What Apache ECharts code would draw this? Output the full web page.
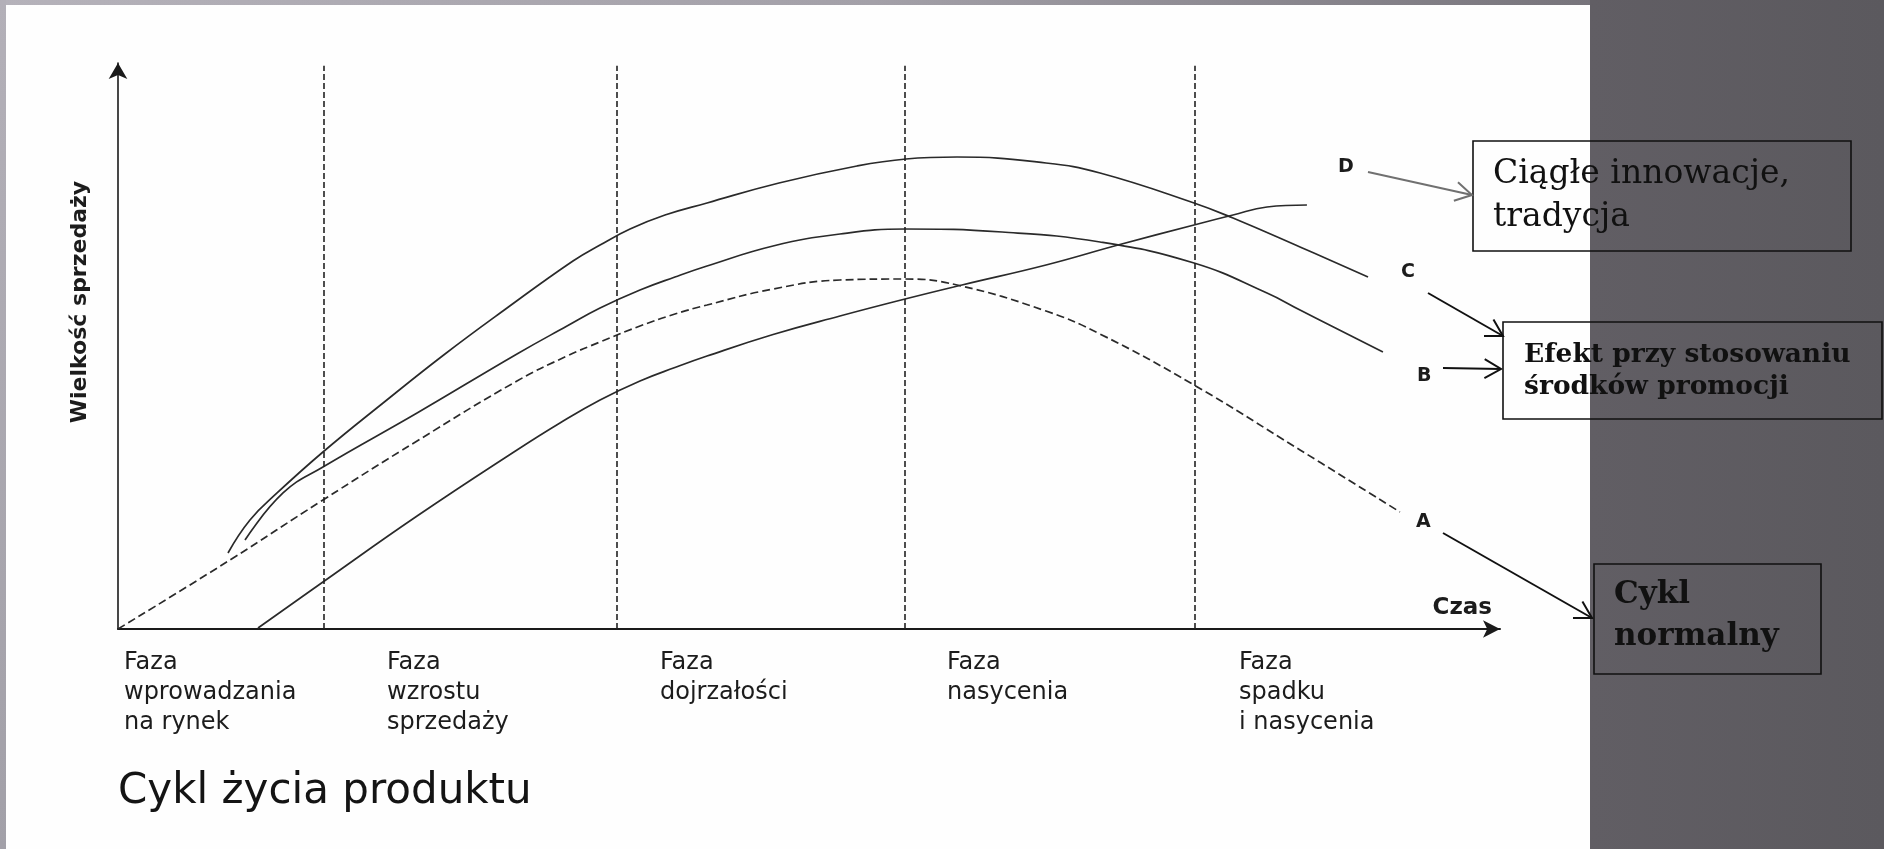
<!DOCTYPE html>
<html>
<head>
<meta charset="utf-8">
<script src="https://cdn.jsdelivr.net/npm/echarts@6/dist/echarts.min.js"></script>
<style>
html,body{margin:0;padding:0;width:1884px;height:849px;overflow:hidden;background:#fff;}
#bg{position:absolute;left:0;top:0;width:1884px;height:849px;background:#fefefe;}
#topband{position:absolute;left:0;top:0;width:1590px;height:5px;background:linear-gradient(to right,#b5b2ba,#a3a0a8 55%,#77747b);}
#leftband{position:absolute;left:0;top:0;width:6px;height:849px;background:linear-gradient(to bottom,#b3b0b8,#a2a0a8);}
#panel{position:absolute;left:1590px;top:0;width:294px;height:849px;background:linear-gradient(to right,#615e64,#5b595e);}
#chart{position:absolute;left:0;top:0;width:1884px;height:849px;}
</style>
</head>
<body>
<div id="bg"><div id="topband"></div><div id="leftband"></div><div id="panel"></div></div>
<div id="chart"></div>
<script>
// ---------------- data (x = time, y = sales, both 0..100) ----------------
const phaseBoundaries = [14.9, 36.1, 56.9, 77.9];
const phaseNames = [
  'Faza\nwprowadzania\nna rynek',
  'Faza\nwzrostu\nsprzedaży',
  'Faza\ndojrzałości',
  'Faza\nnasycenia',
  'Faza\nspadku\ni nasycenia'
];
const curveA = [[0,0],[8.10,12.19],[14.83,22.79],[21.64,33.22],[28.87,43.82],[32.49,48.23],[34.88,50.71],[37.77,53.53],[40.30,55.65],[42.62,57.24],[47.40,60.07],[52.24,61.66],[56.95,61.84],[60.71,60.78],[67.15,56.18],[71.06,52.12],[77.86,43.11],[85.53,31.63],[92.76,20.67]];
const curveB = [[9.19,15.72],[11.94,24.03],[14.83,28.62],[21.64,38.16],[28.87,48.59],[32.49,53.53],[34.88,56.71],[37.77,59.89],[40.30,62.19],[42.62,64.13],[47.40,67.67],[52.24,69.79],[56.95,70.67],[63.97,70.14],[71.06,68.37],[77.86,64.66],[83.14,59.36],[85.53,56.36],[91.53,48.94]];
const curveC = [[7.96,13.43],[9.55,19.26],[11.51,24.03],[14.83,31.27],[19.18,39.93],[23.66,48.59],[28.15,56.71],[32.92,65.02],[34.88,67.84],[37.05,70.67],[39.58,73.14],[42.62,75.27],[47.83,78.80],[53.47,81.80],[57.02,83.04],[60.71,83.39],[67.15,82.33],[71.06,80.57],[77.86,75.27],[80.68,72.61],[85.53,67.49],[90.45,62.19]];
const curveD = [[10.13,0.18],[14.83,8.30],[21.64,19.96],[28.87,31.63],[31.98,36.40],[34.88,40.46],[37.77,43.82],[40.30,46.20],[42.62,48.23],[47.40,52.03],[52.24,55.30],[56.95,58.30],[61.07,60.78],[67.15,64.31],[72.36,67.84],[77.86,71.38],[80.68,73.14],[83.14,74.56],[86.03,74.91]];
const curveNames = ['A', 'B', 'C', 'D'];
const axisNameX = 'Czas';
const axisNameY = 'Wielkość sprzedaży';
const chartTitle = 'Cykl życia produktu';
const noteTexts = ['Ciągłe innowacje,\ntradycja', 'Efekt przy stosowaniu\nśrodków promocji', 'Cykl\nnormalny'];

// ---------------- layout & style ----------------
const INK = '#2a2a2a';
const TXT = '#1c1c1c';
const SANS = '"DejaVu Sans", sans-serif';
const SERIF = '"DejaVu Serif", serif';
const LAYOUT = {
  grid: {left: 118, right: 384, top: 63, bottom: 220},
  phaseLabelX: [124, 387, 660, 947, 1239],
  phaseLabelTop: 648,
  endLabelOffsets: {A: [16, 10], B: [34, 24], C: [33, -5], D: [31, -38]},
  boxes: [
    {x: 1473, y: 141, w: 378, h: 110, tx: 1493, ty: 153, lh: 43, size: 33, weight: 'normal'},
    {x: 1503, y: 322, w: 379, h: 97, tx: 1524, ty: 339, lh: 32, size: 26.5, weight: 'bold'},
    {x: 1594, y: 564, w: 227, h: 110, tx: 1614, ty: 574, lh: 42, size: 31, weight: 'bold'}
  ],
  arrows: [
    {x1: 1368, y1: 172, x2: 1472, y2: 195, color: '#707070'},
    {x1: 1428, y1: 293, x2: 1503, y2: 336, color: '#111'},
    {x1: 1443, y1: 368, x2: 1501, y2: 369, color: '#111'},
    {x1: 1443, y1: 533, x2: 1592, y2: 618, color: '#111'}
  ]
};

function lineSeries(name, data, dashed) {
  return {
    name: name, type: 'line', data: data, symbol: 'none', smooth: 0.45, silent: true,
    lineStyle: {color: INK, width: 1.7, type: dashed ? [8, 4] : 'solid'},
    endLabel: {show: true, formatter: function () { return name; }, distance: 0,
      offset: LAYOUT.endLabelOffsets[name], color: TXT, fontFamily: SANS, fontWeight: 'bold', fontSize: 19},
    z: 3
  };
}

function arrow(a) {
  const ang = Math.atan2(a.y2 - a.y1, a.x2 - a.x1), L = 19, s = Math.PI / 6;
  const p1 = [a.x2 - L * Math.cos(ang - s), a.y2 - L * Math.sin(ang - s)];
  const p2 = [a.x2 - L * Math.cos(ang + s), a.y2 - L * Math.sin(ang + s)];
  return [
    {type: 'line', shape: {x1: a.x1, y1: a.y1, x2: a.x2, y2: a.y2}, style: {stroke: a.color, lineWidth: 2}, z: 10},
    {type: 'polyline', shape: {points: [p1, [a.x2, a.y2], p2]}, style: {stroke: a.color, lineWidth: 2, fill: null}, z: 10}
  ];
}

const graphics = [];
phaseNames.forEach(function (t, i) {
  graphics.push({type: 'text', x: LAYOUT.phaseLabelX[i], y: LAYOUT.phaseLabelTop,
    style: {text: t, fill: TXT, fontFamily: SANS, fontSize: 24, lineHeight: 30, align: 'left', verticalAlign: 'top'}});
});
graphics.push({type: 'text', x: 118, y: 792,
  style: {text: chartTitle, fill: '#141414', fontFamily: SANS, fontSize: 42, align: 'left', verticalAlign: 'middle'}});
LAYOUT.boxes.forEach(function (b, i) {
  graphics.push({type: 'rect', shape: {x: b.x, y: b.y, width: b.w, height: b.h},
    style: {fill: null, stroke: '#111', lineWidth: 1.6}, z: 10});
  graphics.push({type: 'text', x: b.tx, y: b.ty, z: 11,
    style: {text: noteTexts[i], fill: '#111', fontFamily: SERIF, fontWeight: b.weight, fontSize: b.size,
      lineHeight: b.lh, align: 'left', verticalAlign: 'top'}});
});
LAYOUT.arrows.forEach(function (a) { arrow(a).forEach(function (g) { graphics.push(g); }); });

const chart = echarts.init(document.getElementById('chart'), null, {renderer: 'canvas'});
chart.setOption({
  animation: false,
  backgroundColor: 'transparent',
  grid: LAYOUT.grid,
  xAxis: {
    type: 'value', min: 0, max: 100,
    name: axisNameX, nameLocation: 'end', nameGap: -8,
    nameTextStyle: {align: 'right', verticalAlign: 'bottom', lineHeight: 24, padding: [0, 0, 9, 0],
      fontFamily: SANS, fontWeight: 'bold', fontSize: 23, color: TXT},
    axisLine: {show: true, symbol: ['none', 'arrow'], symbolSize: [13, 17], lineStyle: {color: '#1a1a1a', width: 2}},
    axisTick: {show: false}, axisLabel: {show: false}, splitLine: {show: false}
  },
  yAxis: {
    type: 'value', min: 0, max: 100,
    name: axisNameY, nameLocation: 'middle', nameRotate: 90, nameGap: 27,
    nameTextStyle: {padding: [0, 0, 0, 88], fontFamily: SANS, fontWeight: 'bold', fontSize: 22, color: TXT},
    axisLine: {show: true, symbol: ['none', 'arrow'], symbolSize: [14, 16], lineStyle: {color: '#1a1a1a', width: 1.6}},
    axisTick: {show: false}, axisLabel: {show: false}, splitLine: {show: false}
  },
  series: [
    Object.assign(lineSeries('A', curveA, true), {
      markLine: {
        silent: true, symbol: ['none', 'none'], label: {show: false},
        lineStyle: {type: [6, 3], color: '#222', width: 1.6},
        data: phaseBoundaries.map(function (v) { return [{coord: [v, 0]}, {coord: [v, 99.5]}]; })
      }
    }),
    lineSeries('B', curveB, false),
    lineSeries('C', curveC, false),
    lineSeries('D', curveD, false)
  ],
  graphic: graphics
});
</script>
</body>
</html>
